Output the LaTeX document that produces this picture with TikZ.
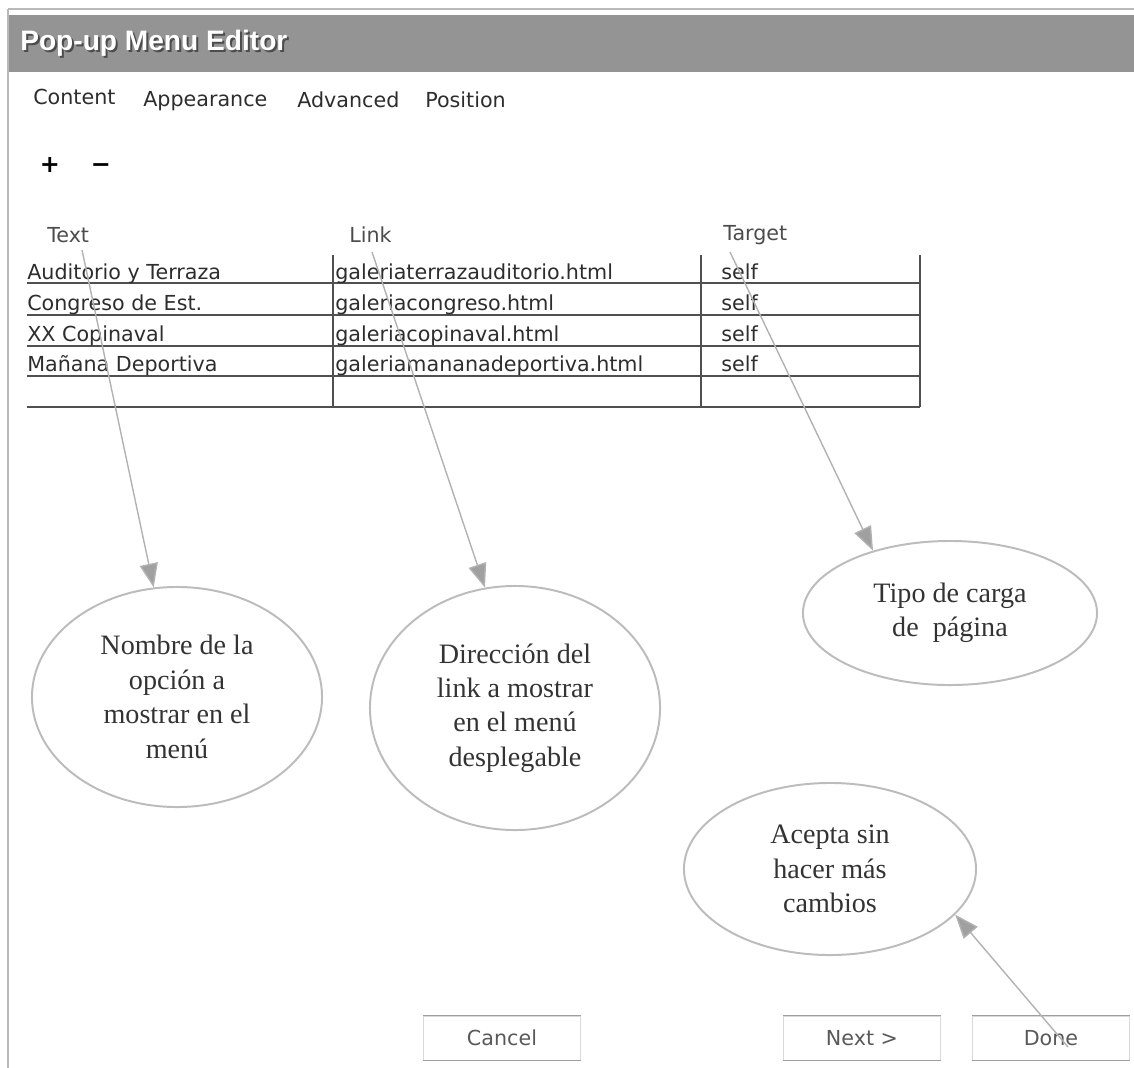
\documentclass[tikz,border=0pt]{standalone}
\usepackage{fontspec}
\setmainfont{Liberation Serif}
\setsansfont{DejaVu Sans}
\newfontfamily\titlefont{Liberation Sans}
\usetikzlibrary{arrows.meta,shapes.geometric}

\definecolor{barGray}{RGB}{148,148,148}
\definecolor{lineGray}{RGB}{80,80,80}
\definecolor{noteGray}{RGB}{188,188,188}
\definecolor{arrowGray}{RGB}{178,178,178}
\definecolor{headGray}{RGB}{160,160,160}
\definecolor{uiText}{RGB}{45,45,45}

\tikzset{
  uitext/.style={font=\sffamily\fontsize{14.7}{17}\selectfont, text=uiText, inner sep=0pt},
  titletxt/.style={font=\titlefont\bfseries\fontsize{20}{24}\selectfont, text=white, anchor=west, inner sep=0pt},
  tab/.style={uitext, anchor=west},
  hdr/.style={uitext, anchor=west, text=black!70},
  cell/.style={uitext, anchor=base west},
  sign/.style={font=\sffamily\bfseries\fontsize{17}{20}\selectfont, inner sep=0pt, anchor=base},
  grid/.style={draw=lineGray, line width=1.1pt},
  note/.style={ellipse, draw=noteGray, line width=1.4pt, inner sep=0pt, align=center,
    font=\fontsize{20}{24.5}\selectfont, text=black!80},
  btn/.style={uitext, rectangle, draw=gray!30, line width=0.7pt, text=black!65,
    minimum width=3.9cm, minimum height=1.1cm},
  btnedge/.style={draw=gray!75, line width=1pt},
  pointer/.style={draw=arrowGray, line width=1pt, -{Triangle[width=13pt,length=17pt,fill=headGray]}}
}

\begin{document}
\begin{tikzpicture}[x=0.025cm, y=-0.025cm]
  \useasboundingbox (0,0) rectangle (1134,1068);

  % Window frame and title bar
  \fill[barGray] (8,15) rectangle (1134,72);
  \draw[gray!55, line width=0.8pt] (8,9) -- (1134,9);
  \draw[gray!55, line width=1pt] (8,9) -- (8,1068);
  \node[titletxt, text=black!70] (titleShadow) at (22,45) {Pop-up Menu Editor};
  \node[titletxt] (title) at (20,43) {Pop-up Menu Editor};

  % Tabs
  \node[tab] (tContent) at (33,97) {Content};
  \node[tab] (tAppearance) at (143,101) {Appearance};
  \node[tab] (tAdvanced) at (297,100) {Advanced};
  \node[tab] (tPosition) at (425,100) {Position};

  % Add / remove row
  \node[sign] (plus) at (50,172) {+};
  \node[sign] (minus) at (101,172) {\symbol{"2212}};

  % Column headers
  \node[hdr] (hText) at (47,235) {Text};
  \node[hdr] (hLink) at (349,235) {Link};
  \node[hdr] (hTarget) at (723,235) {Target};

  % Table grid
  \draw[grid] (27,283) -- (920,283)  (27,315) -- (920,315)  (27,346) -- (920,346);
  \draw[grid] (27,376) -- (920,376)  (27,407) -- (920,407);
  \draw[grid, line width=0.8pt] (333,255) -- (333,407)  (701,255) -- (701,407)  (920,255) -- (920,407);

  % Table rows
  \node[cell] (r1Text) at (27,279) {Auditorio y Terraza};
  \node[cell] (r1Link) at (335,279) {galeriaterrazauditorio.html};
  \node[cell] (r1Target) at (721,279) {self};
  \node[cell] (r2Text) at (27,310) {Congreso de Est.};
  \node[cell] (r2Link) at (335,310) {galeriacongreso.html};
  \node[cell] (r2Target) at (721,310) {self};
  \node[cell] (r3Text) at (27,341) {XX Copinaval};
  \node[cell] (r3Link) at (335,341) {galeriacopinaval.html};
  \node[cell] (r3Target) at (721,341) {self};
  \node[cell] (r4Text) at (27,371) {Mañana Deportiva};
  \node[cell] (r4Link) at (335,371) {galeriamananadeportiva.html};
  \node[cell] (r4Target) at (721,371) {self};

  % Explanation bubbles
  \node[note, minimum width=7.25cm, minimum height=5.5cm] (nText) at (177,697)
    {Nombre de la\\opción a\\mostrar en el\\menú};
  \node[note, minimum width=7.25cm, minimum height=6.1cm] (nLink) at (515,708)
    {Dirección del\\link a mostrar\\en el menú\\desplegable};
  \node[note, minimum width=7.35cm, minimum height=3.6cm] (nTarget) at (950,613)
    {Tipo de carga\\de\ \ página};
  \node[note, minimum width=7.3cm, minimum height=4.3cm] (nDone) at (830,869)
    {Acepta sin\\hacer más\\cambios};

  % Buttons
  \node[btn] (bCancel) at (502,1038) {Cancel};
  \node[btn] (bNext) at (862,1038) {Next >};
  \node[btn] (bDone) at (1051,1038) {Done};
  \draw[btnedge] (bCancel.north west) -- (bCancel.north east)  (bCancel.south west) -- (bCancel.south east);
  \draw[btnedge] (bNext.north west) -- (bNext.north east)  (bNext.south west) -- (bNext.south east);
  \draw[btnedge] (bDone.north west) -- (bDone.north east)  (bDone.south west) -- (bDone.south east);

  % Pointers from the table to the bubbles
  \coordinate (pText) at (82,250);
  \coordinate (pLink) at (372,252);
  \coordinate (pTarget) at (730,252);
  \coordinate (pDone) at (1068,1047);
  \draw[pointer] (pText) -- (nText.102);
  \draw[pointer] (pLink) -- (nLink.104);
  \draw[pointer] (pTarget) -- (nTarget.141);
  \draw[pointer] (pDone) -- (nDone.-20);
\end{tikzpicture}
\end{document}
